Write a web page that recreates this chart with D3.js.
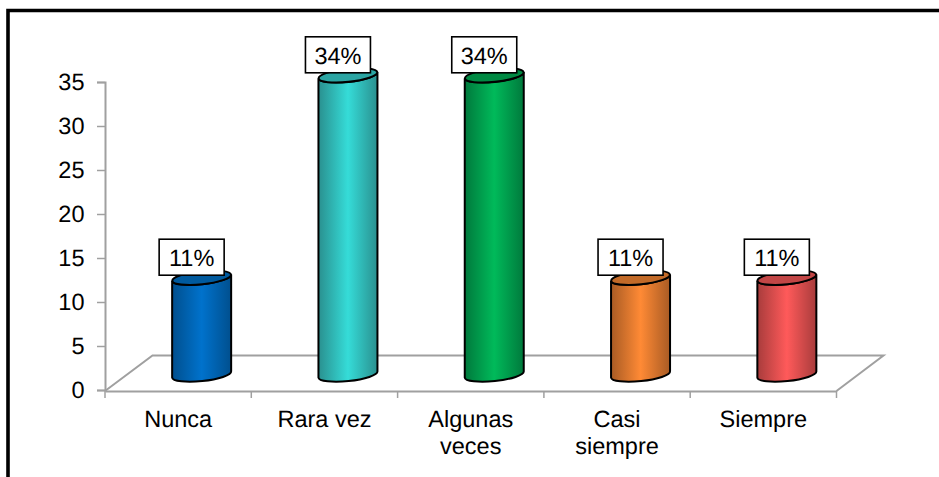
<!DOCTYPE html>
<html><head><meta charset="utf-8">
<script src="https://cdn.jsdelivr.net/npm/d3@7"></script>
<style>html,body{margin:0;padding:0;background:#fff}svg{display:block}text{font-family:"Liberation Sans",Arial,sans-serif;fill:#000;text-rendering:geometricPrecision}</style>
</head><body><div id="c"></div>
<script>
const categories = ["Nunca","Rara vez","Algunas veces","Casi siempre","Siempre"];
const categoryLines = [["Nunca"],["Rara vez"],["Algunas","veces"],["Casi","siempre"],["Siempre"]];
const values = [11,34,34,11,11];
const percentLabels = ["11%","34%","34%","11%","11%"];
const yTicks = [0,5,10,15,20,25,30,35];
const centerColors = ["#0072CC","#35DCD8","#00BA5A","#FF8A35","#FF5A5A"];
const edgeColors = ["#004F8E","#2A908F","#00793C","#A85B24","#A83C3C"];
const topColors = ["#005A9E","#2BA5A3","#008A43","#C26A28","#C24646"];

const W=939,H=477, fs=23.5;
const svg=d3.select("#c").append("svg").attr("width",W).attr("height",H);
const defs=svg.append("defs");
const x=d3.scaleBand().domain(categories).range([105,836.5]);
const y=d3.scaleLinear().domain([0,35]).range([390,82]);
const grey="#A0A0A0";

// frame
svg.append("path").attr("d",`M8 ${H}V10.5H${W}`).attr("fill","none").attr("stroke","#000").attr("stroke-width",3.6);

// floor
const dx=47.5, dy=35.5;
svg.append("path")
  .attr("d",`M105 391L${105+dx} ${391-dy}H${836.5+dx-0.5}L836.5 391`)
  .attr("fill","none").attr("stroke",grey).attr("stroke-width",2);

// axes
const ay=svg.append("g").attr("transform","translate(105,0)")
  .call(d3.axisLeft(y).tickValues(yTicks).tickSize(8).tickPadding(12.5));
const ax=svg.append("g").attr("transform","translate(0,391)")
  .call(d3.axisBottom(x).tickSize(0).tickFormat(""));
[ay,ax].forEach(a=>{a.selectAll("path.domain").attr("stroke",grey).attr("stroke-width",2);
  a.selectAll("line").attr("stroke",grey).attr("stroke-width",1.5);});
ay.selectAll("text").attr("font-size",fs).attr("font-family",'"Liberation Sans",Arial,sans-serif').attr("fill","#000");
d3.range(6).forEach(i=>{
  const px=105+i*x.step();
  svg.append("line").attr("x1",px).attr("x2",px).attr("y1",391).attr("y2",398).attr("stroke",grey).attr("stroke-width",1.5);
});

// category labels
categories.forEach((c,i)=>{
  const t=svg.append("text").attr("text-anchor","middle").attr("font-size",fs)
    .attr("x",x(c)+x.bandwidth()/2).attr("y",427);
  categoryLines[i].forEach((l,j)=>t.append("tspan").attr("x",x(c)+x.bandwidth()/2).attr("dy",j?27:0).text(l));
});

// cylinders
const r=29.5, ry=6.6, tilt=-6, d=3.1;
const baseOffset=15.5;
categories.forEach((c,i)=>{
  const xc=x(c)+x.bandwidth()/2+23.5;
  const base=y(0)-baseOffset, top=y(values[i])-baseOffset;
  const g=defs.append("linearGradient").attr("id","g"+i);
  [[0,edgeColors[i]],[.5,centerColors[i]],[1,edgeColors[i]]].forEach(s=>g.append("stop").attr("offset",s[0]).attr("stop-color",s[1]));
  svg.append("path")
    .attr("d",`M${xc-r} ${top+d}V${base+d}A${r} ${ry} ${tilt} 0 0 ${xc+r} ${base-d}V${top-d}A${r} ${ry} ${tilt} 0 1 ${xc-r} ${top+d}Z`)
    .attr("fill",`url(#g${i})`).attr("stroke","#000").attr("stroke-width",2);
  svg.append("ellipse").attr("cx",xc).attr("cy",top).attr("rx",r).attr("ry",ry)
    .attr("transform",`rotate(${tilt} ${xc} ${top})`)
    .attr("fill",topColors[i]).attr("stroke","#000").attr("stroke-width",2);
  // label box
  const bw=65,bh=36,bx=xc-10-bw/2,by=top-38.5;
  svg.append("rect").attr("x",bx).attr("y",by).attr("width",bw).attr("height",bh)
    .attr("fill","#fff").attr("stroke","#000").attr("stroke-width",1.6);
  svg.append("text").attr("text-anchor","middle").attr("font-size",fs)
    .attr("x",bx+bw/2).attr("y",by+27).text(percentLabels[i]);
});
</script></body></html>
